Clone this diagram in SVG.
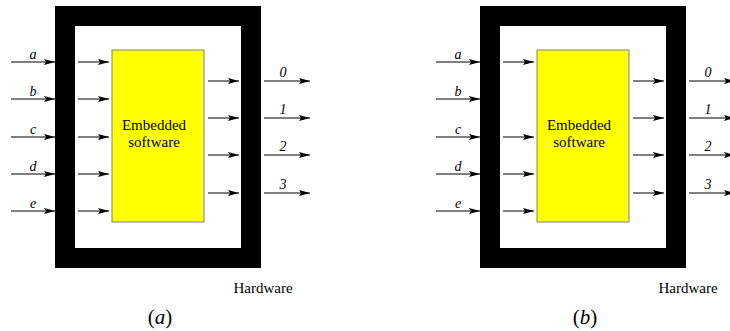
<svg xmlns="http://www.w3.org/2000/svg" width="730" height="331" viewBox="0 0 730 331">
<defs>
<marker id="ah" markerWidth="11" markerHeight="7" refX="11" refY="3.5" orient="auto" markerUnits="userSpaceOnUse">
<path d="M0,0.5 L11,3.5 L0,6.5 L2,3.5 Z" fill="#000"/>
</marker>
<style>
.frame{fill:none;stroke:#000;stroke-width:20}
.sw{fill:#ffff00;stroke:#808080;stroke-width:1}
.c{stroke:#000;stroke-width:1;fill:none;marker-end:url(#ah)}
text{font-family:'Liberation Serif','Times New Roman',Tinos,'DejaVu Serif',serif;fill:#000;text-anchor:middle}
.t{font-size:15px}
.l{font-size:14px;font-style:italic}
.cap{font-size:21px}
</style>
</defs>
<rect width="730" height="331" fill="#fff"/>
<g id="panel-a">
<g id="hw-a"><rect class="frame" x="65" y="16" width="186" height="242"/><text class="t" x="263" y="293">Hardware</text></g>
<g id="sw-a"><rect class="sw" x="112" y="50" width="92" height="172"/><text class="t" x="154" y="130">Embedded</text><text class="t" x="154" y="147">software</text></g>
<g id="labels-a">
<text class="l" x="33" y="59">a</text><text class="l" x="33" y="96">b</text><text class="l" x="33" y="134">c</text><text class="l" x="33" y="171">d</text><text class="l" x="33" y="208">e</text>
<text class="l" x="283" y="77">0</text><text class="l" x="283" y="114">1</text><text class="l" x="283" y="151">2</text><text class="l" x="283" y="189">3</text>
</g>
<g id="connectors-a">
<line class="c" x1="11" y1="62" x2="55" y2="62"/><line class="c" x1="11" y1="99" x2="55" y2="99"/><line class="c" x1="11" y1="137" x2="55" y2="137"/><line class="c" x1="11" y1="174" x2="55" y2="174"/><line class="c" x1="11" y1="211" x2="55" y2="211"/>
<line class="c" x1="78" y1="62" x2="109" y2="62"/><line class="c" x1="78" y1="99" x2="109" y2="99"/><line class="c" x1="78" y1="137" x2="109" y2="137"/><line class="c" x1="78" y1="174" x2="109" y2="174"/><line class="c" x1="78" y1="211" x2="109" y2="211"/>
<line class="c" x1="208" y1="81" x2="239" y2="81"/><line class="c" x1="208" y1="118" x2="239" y2="118"/><line class="c" x1="208" y1="155" x2="239" y2="155"/><line class="c" x1="208" y1="193" x2="239" y2="193"/>
<line class="c" x1="264" y1="81" x2="310" y2="81"/><line class="c" x1="264" y1="118" x2="310" y2="118"/><line class="c" x1="264" y1="155" x2="310" y2="155"/><line class="c" x1="264" y1="193" x2="310" y2="193"/>
</g>
<text class="cap" x="160" y="324">(<tspan font-style="italic">a</tspan>)</text>
</g>
<g id="panel-b" transform="translate(425,0)">
<g id="hw-b"><rect class="frame" x="65" y="16" width="186" height="242"/><text class="t" x="263" y="293">Hardware</text></g>
<g id="sw-b"><rect class="sw" x="112" y="50" width="92" height="172"/><text class="t" x="154" y="130">Embedded</text><text class="t" x="154" y="147">software</text></g>
<g id="labels-b">
<text class="l" x="33" y="59">a</text><text class="l" x="33" y="96">b</text><text class="l" x="33" y="134">c</text><text class="l" x="33" y="171">d</text><text class="l" x="33" y="208">e</text>
<text class="l" x="283" y="77">0</text><text class="l" x="283" y="114">1</text><text class="l" x="283" y="151">2</text><text class="l" x="283" y="189">3</text>
</g>
<g id="connectors-b">
<line class="c" x1="11" y1="62" x2="55" y2="62"/><line class="c" x1="11" y1="99" x2="55" y2="99"/><line class="c" x1="11" y1="137" x2="55" y2="137"/><line class="c" x1="11" y1="174" x2="55" y2="174"/><line class="c" x1="11" y1="211" x2="55" y2="211"/>
<line class="c" x1="78" y1="62" x2="109" y2="62"/><line class="c" x1="78" y1="137" x2="109" y2="137"/><line class="c" x1="78" y1="174" x2="109" y2="174"/><line class="c" x1="78" y1="211" x2="109" y2="211"/>
<line class="c" x1="208" y1="81" x2="239" y2="81"/><line class="c" x1="208" y1="118" x2="239" y2="118"/><line class="c" x1="208" y1="155" x2="239" y2="155"/><line class="c" x1="208" y1="193" x2="239" y2="193"/>
<line class="c" x1="264" y1="81" x2="310" y2="81"/><line class="c" x1="264" y1="118" x2="310" y2="118"/><line class="c" x1="264" y1="155" x2="310" y2="155"/><line class="c" x1="264" y1="193" x2="310" y2="193"/>
</g>
<text class="cap" x="160" y="324">(<tspan font-style="italic">b</tspan>)</text>
</g>
</svg>
